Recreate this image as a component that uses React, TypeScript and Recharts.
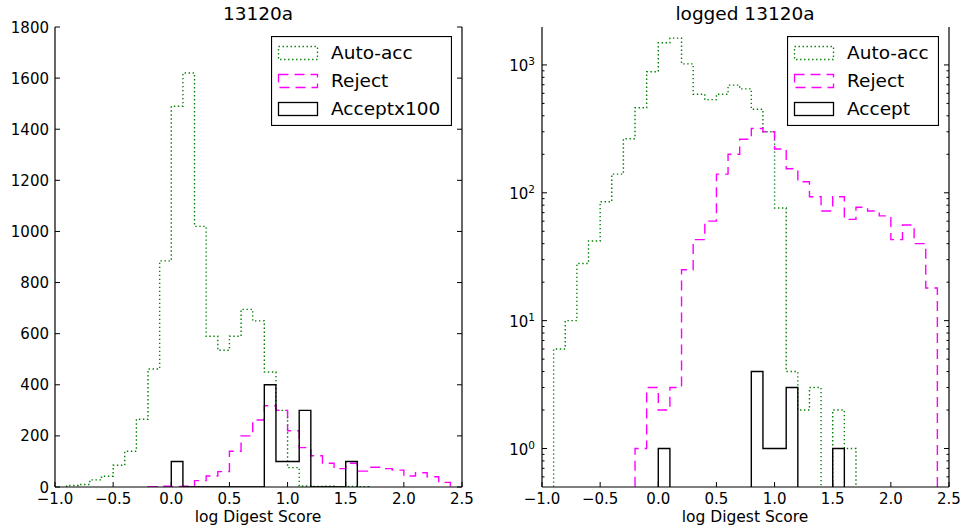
import { LineChart, Line, XAxis, YAxis, Legend } from "recharts";

const FONT = "DejaVu Sans, sans-serif";
const BIN = 0.1;

// histogram counts per 0.1 bin
const autoStart = -0.9;
const autoCounts = [6, 10, 28, 42, 85, 140, 265, 462, 885, 1490, 1620, 1020, 590, 535, 590, 695, 650, 450, 300, 76, 4, 2, 3, 0, 2, 1];
const rejectStart = -0.2;
const rejectCounts = [1, 3, 2, 3, 25, 43, 60, 140, 200, 262, 318, 300, 220, 154, 122, 93, 72, 93, 62, 77, 72, 66, 43, 56, 40, 18];
const acceptStart = 0.0;
const acceptCounts = [1, 0, 0, 0, 0, 0, 0, 0, 4, 1, 1, 3, 0, 0, 0, 1];
const acceptScale = 100;

const xTicks = [-1, -0.5, 0, 0.5, 1, 1.5, 2, 2.5];
const linTicks = [0, 200, 400, 600, 800, 1000, 1200, 1400, 1600, 1800];
const logMajor = [1, 10, 100, 1000];
const logMinor = [0.6, 0.7, 0.8, 0.9, 2, 3, 4, 5, 6, 7, 8, 9, 20, 30, 40, 50, 60, 70, 80, 90, 200, 300, 400, 500, 600, 700, 800, 900];
const logTicks = [...logMinor, ...logMajor].sort((a, b) => a - b);

const leftLabels = ["Auto-acc", "Reject", "Acceptx100"];
const rightLabels = ["Auto-acc", "Reject", "Accept"];

const GREEN = "#008000";
const MAGENTA = "#ff00ff";
const DOT = "1.4 2.6";
const DASH = "10 6";
const LOG_FLOOR = 0.05; // zero bins sit below the log axis and get clipped

const r2 = (v: number) => Math.round(v * 100) / 100;

// outline of a step histogram: edges with counts, dropping to the floor at both ends
function toSteps(start: number, counts: number[], scale = 1, floor = 0) {
  const val = (c: number) => (c * scale > 0 ? c * scale : floor);
  const end = r2(start + counts.length * BIN);
  const pts = [{ x: r2(start), y: floor }];
  counts.forEach((c, i) => pts.push({ x: r2(start + i * BIN), y: val(c) }));
  pts.push({ x: end, y: val(counts[counts.length - 1]) });
  pts.push({ x: end, y: floor });
  return pts;
}

const fmtX = (v: number) => v.toFixed(1).replace("-", "\u2212");

const BottomTick = (p: any) => (
  <g>
    <line x1={p.x} y1={p.y} x2={p.x} y2={p.y - 5} stroke="#000" />
    <text x={p.x} y={p.y + 16.5} textAnchor="middle" fontSize={15} fontFamily={FONT} fill="#000">
      {fmtX(p.payload.value)}
    </text>
  </g>
);

const TopTick = (p: any) => <line x1={p.x} y1={p.y} x2={p.x} y2={p.y + 5} stroke="#000" />;

const LinLeftTick = (p: any) => (
  <g>
    <line x1={p.x} y1={p.y} x2={p.x + 5} y2={p.y} stroke="#000" />
    <text x={p.x - 6} y={p.y + 5.5} textAnchor="end" fontSize={15} fontFamily={FONT} fill="#000">
      {p.payload.value}
    </text>
  </g>
);

const LinRightTick = (p: any) => <line x1={p.x} y1={p.y} x2={p.x - 5} y2={p.y} stroke="#000" />;

const LogLeftTick = (p: any) => {
  const v = p.payload.value;
  const major = logMajor.includes(v);
  return (
    <g>
      <line x1={p.x} y1={p.y} x2={p.x + (major ? 5 : 2.5)} y2={p.y} stroke="#000" />
      {major && (
        <text x={p.x - 7} y={p.y + 6} textAnchor="end" fontSize={15} fontFamily={FONT} fill="#000">
          10
          <tspan dy={-6} fontSize={10.5}>
            {Math.round(Math.log10(v))}
          </tspan>
        </text>
      )}
    </g>
  );
};

const LogRightTick = (p: any) => {
  const major = logMajor.includes(p.payload.value);
  return <line x1={p.x} y1={p.y} x2={p.x - (major ? 5 : 2.5)} y2={p.y} stroke="#000" />;
};

const legendStyles = [
  { color: GREEN, dash: DOT },
  { color: MAGENTA, dash: DASH },
  { color: "#000", dash: undefined },
];

const LegendBox = ({ labels, width, height }: { labels: string[]; width: number; height: number }) => (
  <svg width={width} height={height} style={{ display: "block" }}>
    <rect x={0.5} y={0.5} width={width - 1} height={height - 1} fill="#fff" stroke="#000" strokeWidth={1.2} />
    {labels.map((label, i) => (
      <g key={label}>
        <rect
          x={7.5}
          y={10.5 + i * 28}
          width={39}
          height={13}
          fill="none"
          stroke={legendStyles[i].color}
          strokeWidth={1.3}
          strokeDasharray={legendStyles[i].dash}
        />
        <text x={60} y={23 + i * 28} fontSize={18.5} fontFamily={FONT} fill="#000">
          {label}
        </text>
      </g>
    ))}
  </svg>
);

type PanelProps = {
  log: boolean;
  left: number;
  yAxisW: number;
  rightAxisW: number;
  labels: string[];
  legendLeft: number;
  legendW: number;
};

function Panel({ log, left, yAxisW, rightAxisW, labels, legendLeft, legendW }: PanelProps) {
  const floor = log ? LOG_FLOOR : 0;
  const autoData = toSteps(autoStart, autoCounts, 1, floor);
  const rejectData = toSteps(rejectStart, rejectCounts, 1, floor);
  const acceptData = toSteps(acceptStart, acceptCounts, log ? 1 : acceptScale, floor);
  const yDomain: [number, number] = log ? [0.5, 1980] : [0, 1800];
  const yProps = log
    ? { scale: "log" as const, ticks: logTicks }
    : { ticks: linTicks };

  return (
    <div style={{ position: "absolute", left, top: 0 }}>
      <LineChart width={481} height={531} margin={{ top: 27, right: 0, bottom: 0, left: 0 }}>
        <XAxis
          type="number"
          dataKey="x"
          domain={[-1, 2.5]}
          ticks={xTicks}
          interval={0}
          allowDataOverflow
          height={44}
          tickSize={0}
          tickMargin={0}
          axisLine={{ stroke: "#000", strokeWidth: 1.2 }}
          tick={BottomTick}
        />
        <XAxis
          xAxisId="top"
          orientation="top"
          type="number"
          domain={[-1, 2.5]}
          ticks={xTicks}
          interval={0}
          allowDataOverflow
          height={0}
          tickSize={0}
          tickMargin={0}
          axisLine={{ stroke: "#000", strokeWidth: 1.2 }}
          tick={TopTick}
        />
        <YAxis
          type="number"
          domain={yDomain}
          {...yProps}
          interval={0}
          allowDataOverflow
          width={yAxisW}
          tickSize={0}
          tickMargin={0}
          axisLine={{ stroke: "#000", strokeWidth: 1.2 }}
          tick={log ? LogLeftTick : LinLeftTick}
        />
        <YAxis
          yAxisId="right"
          orientation="right"
          type="number"
          domain={yDomain}
          {...yProps}
          interval={0}
          allowDataOverflow
          width={rightAxisW}
          tickSize={0}
          tickMargin={0}
          axisLine={{ stroke: "#000", strokeWidth: 1.2 }}
          tick={log ? LogRightTick : LinRightTick}
        />
        <Line
          data={autoData}
          dataKey="y"
          name={labels[0]}
          type="stepAfter"
          stroke={GREEN}
          strokeWidth={1.4}
          strokeDasharray={DOT}
          dot={false}
          isAnimationActive={false}
        />
        <Line
          data={rejectData}
          dataKey="y"
          name={labels[1]}
          type="stepAfter"
          stroke={MAGENTA}
          strokeWidth={1.4}
          strokeDasharray={DASH}
          dot={false}
          isAnimationActive={false}
        />
        <Line
          data={acceptData}
          dataKey="y"
          name={labels[2]}
          type="stepAfter"
          stroke="#000"
          strokeWidth={1.4}
          dot={false}
          isAnimationActive={false}
        />
        <Legend
          layout="vertical"
          align="center"
          verticalAlign="middle"
          wrapperStyle={{ top: 36, left: legendLeft, width: legendW, height: 90 }}
          content={() => <LegendBox labels={labels} width={legendW} height={90} />}
        />
      </LineChart>
    </div>
  );
}

export default function App() {
  return (
    <div style={{ position: "absolute", left: 0, top: 0, width: 962, height: 531, background: "#fff" }}>
      <Panel log={false} left={0} yAxisW={55} rightAxisW={19} labels={leftLabels} legendLeft={271} legendW={181} />
      <Panel log={true} left={481} yAxisW={61} rightAxisW={13} labels={rightLabels} legendLeft={306} legendW={152} />
      <svg width={962} height={531} style={{ position: "absolute", left: 0, top: 0, pointerEvents: "none" }}>
        <text x={258} y={20} textAnchor="middle" fontSize={18.5} fontFamily={FONT} fill="#000">
          13120a
        </text>
        <text x={745} y={20} textAnchor="middle" fontSize={18.5} fontFamily={FONT} fill="#000">
          logged 13120a
        </text>
        <text x={258} y={521.5} textAnchor="middle" fontSize={15.5} fontFamily={FONT} fill="#000">
          log Digest Score
        </text>
        <text x={745} y={521.5} textAnchor="middle" fontSize={15.5} fontFamily={FONT} fill="#000">
          log Digest Score
        </text>
      </svg>
    </div>
  );
}
